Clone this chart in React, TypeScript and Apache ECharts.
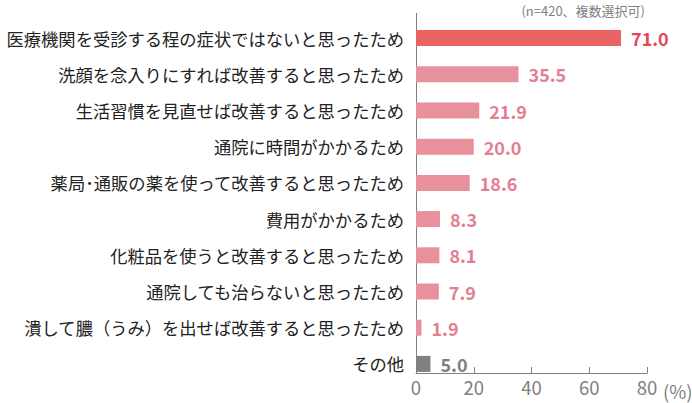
import React, { useEffect, useRef } from "react";
import * as echarts from "echarts";

const categories = [
  "医療機関を受診する程の症状ではないと思ったため",
  "洗顔を念入りにすれば改善すると思ったため",
  "生活習慣を見直せば改善すると思ったため",
  "通院に時間がかかるため",
  "薬局･通販の薬を使って改善すると思ったため",
  "費用がかかるため",
  "化粧品を使うと改善すると思ったため",
  "通院しても治らないと思ったため",
  "潰して膿（うみ）を出せば改善すると思ったため",
  "その他",
];
const values = [71.0, 35.5, 21.9, 20.0, 18.6, 8.3, 8.1, 7.9, 1.9, 5.0];
const xTicks = [0, 20, 40, 60, 80];
const unitText = "(%)";
const noteText = "(n=420、複数選択可)";

const barColors = ["#E86464", "#E8909C", "#E8909C", "#E8909C", "#E8909C", "#E8909C", "#E8909C", "#E8909C", "#E8909C", "#808080"];
const labelColors = ["#E0485A", "#E27F90", "#E27F90", "#E27F90", "#E27F90", "#E27F90", "#E27F90", "#E27F90", "#E27F90", "#808080"];

const FONT = "'Noto Sans CJK JP', 'Noto Sans', sans-serif";

export default function App() {
  const ref = useRef<HTMLDivElement>(null);
  useEffect(() => {
    if (!ref.current) return;
    const chart = echarts.init(ref.current, null, { renderer: "svg" });
    const gridLeft = 416;
    const gridRight = 692 - 647;
    chart.setOption({
      animation: false,
      textStyle: { fontFamily: FONT },
      grid: {
        left: gridLeft,
        right: gridRight,
        top: 20,
        height: 362,
        containLabel: false,
        outerBoundsMode: "none",
      },
      xAxis: {
        type: "value",
        min: xTicks[0],
        max: xTicks[xTicks.length - 1],
        interval: 20,
        offset: -9,
        axisLine: { show: true, lineStyle: { color: "#808080", width: 1 } },
        axisTick: { show: true, inside: true, length: 6, lineStyle: { color: "#808080" } },
        splitLine: { show: false },
        axisLabel: {
          color: "#808080",
          fontSize: 18.5,
          fontFamily: FONT,
          margin: 5,
        },
      },
      yAxis: {
        type: "category",
        data: categories,
        inverse: true,
        axisLine: { show: false },
        axisTick: { show: false },
        axisLabel: { color: "#222", fontSize: 17.3, fontFamily: FONT, margin: 12 },
      },
      series: [
        {
          type: "bar",
          barWidth: 16,
          data: values.map((v, i) => ({
            value: v,
            itemStyle: { color: barColors[i] },
            label: { color: labelColors[i] },
          })),
          label: {
            show: true,
            position: "right",
            distance: 10,
            fontSize: 18,
            fontWeight: 600,
            fontFamily: FONT,
            formatter: (p: any) => p.value.toFixed(1),
          },
        },
      ],
      graphic: [
        {
          type: "line",
          shape: { x1: gridLeft + 0.5, y1: 13, x2: gridLeft + 0.5, y2: 373 },
          style: { stroke: "#808080", lineWidth: 1 },
        },
        {
          type: "text",
          x: 663,
          y: 391,
          style: { text: unitText, fill: "#808080", fontSize: 18.5, fontFamily: FONT, textVerticalAlign: "middle" },
        },
        {
          type: "text",
          x: 645,
          y: 10,
          style: {
            text: noteText,
            fill: "#808080",
            fontSize: 13,
            fontFamily: FONT,
            textAlign: "right",
            textVerticalAlign: "middle",
          },
        },
      ],
    });
    return () => chart.dispose();
  }, []);
  return <div ref={ref} style={{ width: 692, height: 403, position: "absolute", left: 0, top: 0 }} />;
}
